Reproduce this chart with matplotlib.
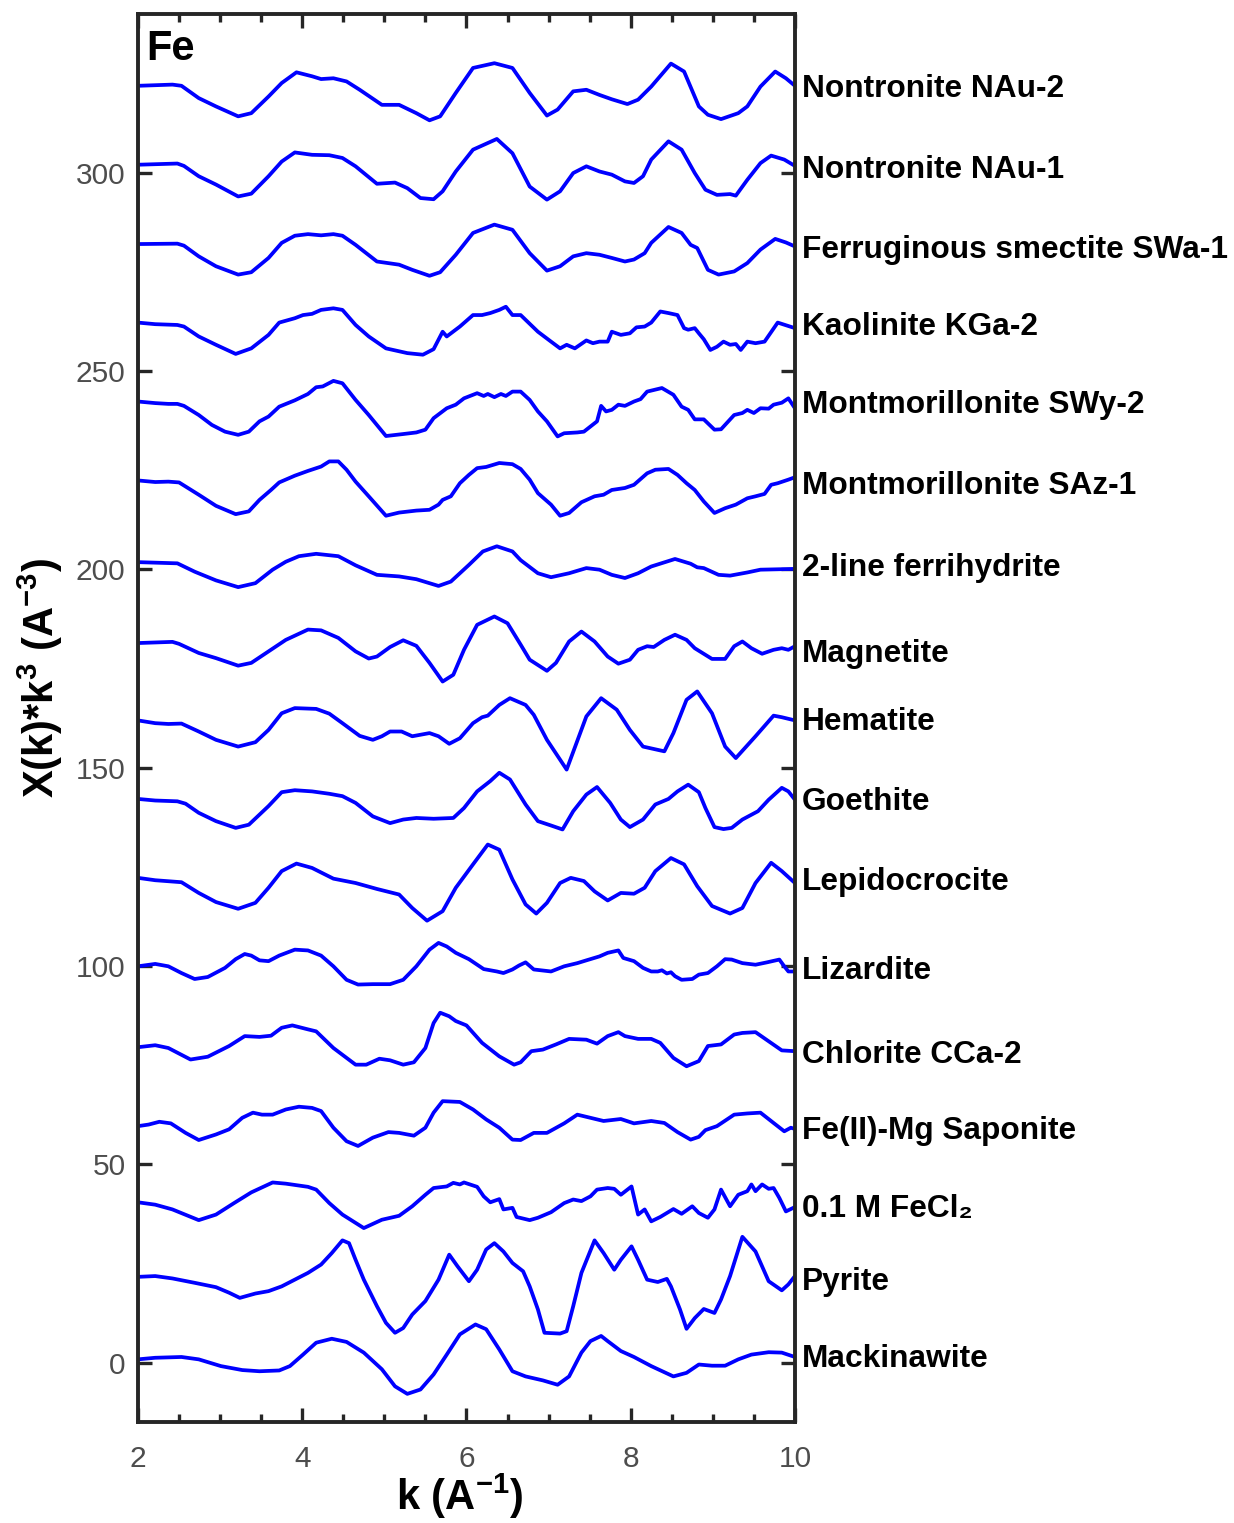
"""
Stacked Fe K-edge EXAFS spectra (k^3-weighted) of Fe reference minerals.
"""

import matplotlib
matplotlib.use('Agg')
import matplotlib.pyplot as plt
from matplotlib import transforms
from matplotlib.ticker import MultipleLocator


# ============================================================
# DATA (offset already applied)
# ============================================================
nau2_k = [2.0, 2.42, 2.53, 2.74, 2.95, 3.22, 3.38, 3.59, 3.75, 3.93, 4.12, 4.23, 4.38, 4.54, 4.70,
          4.97, 5.18, 5.39, 5.55, 5.68, 5.87, 6.08, 6.34, 6.56, 6.77, 6.98, 7.11, 7.30, 7.46, 7.62,
          7.77, 7.96, 8.09, 8.25, 8.49, 8.65, 8.83, 8.94, 9.10, 9.31, 9.42, 9.58, 9.76, 9.89, 10.0]
nau2_chi = [321.9, 322.2, 321.9, 318.8, 316.7, 314.2, 315.0, 319.2, 322.6, 325.3, 324.3, 323.6, 323.8, 323.0, 320.9,
            317.1, 317.1, 315.0, 313.2, 314.2, 320.1, 326.4, 327.6, 326.4, 320.1, 314.4, 315.9, 320.5, 320.9, 319.6,
            318.5, 317.3, 318.4, 321.7, 327.5, 325.5, 316.7, 314.6, 313.5, 315.0, 316.7, 321.7, 325.5, 323.8, 321.9]

nau1_k = [2.0, 2.48, 2.56, 2.74, 2.95, 3.22, 3.38, 3.59, 3.75, 3.91, 4.12, 4.33, 4.49, 4.65, 4.91, 5.13,
          5.28, 5.44, 5.60, 5.71, 5.87, 6.08, 6.37, 6.56, 6.77, 6.98, 7.14, 7.30, 7.46, 7.62, 7.77, 7.93,
          8.04, 8.15, 8.25, 8.46, 8.62, 8.78, 8.91, 9.05, 9.21, 9.28, 9.42, 9.58, 9.71, 9.87, 10.0]
nau1_chi = [302.0, 302.3, 301.7, 299.1, 297.0, 294.0, 294.7, 299.1, 302.8, 305.1, 304.5, 304.4, 303.7, 301.6, 297.2, 297.5,
            296.1, 293.6, 293.3, 295.3, 300.3, 305.8, 308.5, 304.9, 296.5, 293.2, 295.3, 299.9, 301.6, 300.3, 299.5, 297.8,
            297.4, 299.1, 303.3, 307.9, 305.8, 299.9, 295.7, 294.4, 294.6, 294.2, 298.2, 302.4, 304.3, 303.3, 301.7]

swa1_k = [2.0, 2.48, 2.56, 2.74, 2.95, 3.22, 3.38, 3.59, 3.75, 3.91, 4.07, 4.23, 4.38, 4.49, 4.65, 4.91,
          5.18, 5.34, 5.55, 5.68, 5.87, 6.08, 6.34, 6.56, 6.77, 6.98, 7.14, 7.30, 7.46, 7.62, 7.77, 7.93,
          8.04, 8.17, 8.25, 8.46, 8.62, 8.73, 8.81, 8.94, 9.07, 9.26, 9.42, 9.58, 9.76, 9.89, 10.0]
swa1_chi = [282.0, 282.1, 281.6, 278.9, 276.4, 274.3, 274.9, 278.5, 282.3, 284.1, 284.5, 284.2, 284.5, 284.1, 281.8, 277.6,
            276.8, 275.5, 274.0, 274.9, 279.3, 284.8, 286.9, 285.6, 279.7, 275.3, 276.4, 278.9, 279.7, 279.3, 278.5, 277.6,
            278.1, 279.7, 282.3, 286.3, 284.8, 281.8, 281.0, 275.5, 274.3, 275.1, 277.2, 280.6, 283.3, 282.4, 281.4]

kga2_k = [2.0, 2.21, 2.48, 2.56, 2.74, 2.95, 3.19, 3.38, 3.59, 3.72, 3.91, 4.01, 4.12, 4.23, 4.38, 4.49, 4.65,
          4.81, 5.02, 5.28, 5.47, 5.60, 5.71, 5.76, 5.92, 6.08, 6.19, 6.29, 6.40, 6.48, 6.56, 6.66, 6.87, 7.03,
          7.14, 7.22, 7.32, 7.46, 7.54, 7.62, 7.72, 7.77, 7.88, 7.99, 8.07, 8.17, 8.25, 8.36, 8.46, 8.57, 8.65,
          8.70, 8.78, 8.83, 8.89, 8.97, 9.05, 9.13, 9.21, 9.28, 9.34, 9.42, 9.52, 9.63, 9.79, 10.0]
kga2_chi = [262.2, 261.8, 261.6, 261.2, 258.7, 256.6, 254.3, 255.7, 259.1, 262.2, 263.3, 264.1, 264.4, 265.4, 265.8, 265.4, 261.6,
            258.7, 255.7, 254.5, 254.1, 255.5, 259.9, 258.7, 261.2, 264.1, 264.1, 264.6, 265.4, 266.2, 264.1, 264.1, 259.9, 257.4,
            255.7, 256.6, 255.7, 257.7, 257.0, 257.4, 257.4, 259.9, 259.1, 259.5, 261.0, 261.2, 262.2, 265.0, 264.6, 264.1, 260.8,
            260.4, 260.8, 259.5, 258.0, 255.3, 256.1, 257.4, 256.6, 256.8, 255.3, 257.4, 257.0, 257.4, 262.2, 260.8]

swy2_k = [2.0, 2.21, 2.37, 2.48, 2.56, 2.74, 2.90, 3.06, 3.22, 3.35, 3.48, 3.59, 3.72, 3.91, 4.01, 4.07, 4.17,
          4.25, 4.38, 4.49, 4.65, 4.81, 5.02, 5.23, 5.39, 5.50, 5.60, 5.76, 5.87, 5.97, 6.13, 6.21, 6.26, 6.34,
          6.42, 6.48, 6.56, 6.66, 6.77, 6.87, 6.98, 7.11, 7.19, 7.35, 7.43, 7.51, 7.59, 7.64, 7.70, 7.77, 7.85,
          7.93, 8.04, 8.12, 8.20, 8.38, 8.52, 8.62, 8.70, 8.78, 8.89, 9.02, 9.10, 9.26, 9.36, 9.42, 9.50, 9.58,
          9.68, 9.74, 9.84, 9.92, 10.0]
swy2_chi = [242.3, 241.9, 241.7, 241.7, 241.2, 238.9, 236.4, 234.7, 233.9, 234.7, 237.3, 238.5, 241.0, 242.6, 243.6, 244.2, 245.9,
            246.1, 247.5, 246.9, 242.7, 238.9, 233.6, 234.1, 234.5, 235.2, 238.1, 240.6, 241.5, 243.1, 244.4, 243.7, 244.2, 243.4,
            244.2, 243.7, 244.8, 244.8, 242.7, 239.8, 237.3, 233.5, 234.3, 234.5, 234.7, 236.0, 237.3, 241.2, 239.8, 240.2, 241.5,
            241.2, 242.3, 242.9, 244.8, 245.7, 244.0, 241.0, 240.2, 237.8, 237.8, 235.2, 235.3, 238.9, 239.4, 240.2, 239.4, 240.6,
            240.5, 241.5, 242.0, 243.1, 240.6]

saz1_k = [2.0, 2.21, 2.37, 2.50, 2.74, 2.95, 3.19, 3.35, 3.48, 3.62, 3.72, 3.91, 4.07, 4.23, 4.33, 4.44,
          4.54, 4.65, 4.81, 5.02, 5.18, 5.39, 5.55, 5.66, 5.71, 5.81, 5.92, 6.03, 6.13, 6.24, 6.40, 6.56,
          6.66, 6.77, 6.87, 7.03, 7.14, 7.25, 7.40, 7.56, 7.67, 7.77, 7.93, 8.04, 8.20, 8.30, 8.46, 8.57,
          8.68, 8.78, 8.89, 9.02, 9.15, 9.28, 9.42, 9.52, 9.63, 9.71, 9.79, 9.92, 10.0]
saz1_chi = [222.4, 222.0, 222.1, 221.9, 218.8, 216.0, 213.9, 214.6, 217.5, 220.0, 221.9, 223.6, 224.8, 225.9, 227.2, 227.2,
            225.1, 222.1, 218.4, 213.5, 214.3, 214.8, 215.0, 216.3, 217.5, 218.4, 221.7, 223.8, 225.5, 225.8, 226.8, 226.5,
            225.3, 222.6, 219.2, 216.3, 213.5, 214.2, 216.9, 218.4, 218.8, 220.0, 220.5, 221.3, 224.2, 225.1, 225.3, 223.8,
            221.7, 220.0, 217.1, 214.2, 215.4, 216.3, 217.9, 218.4, 219.0, 221.3, 221.7, 222.6, 223.2]

fhy_k = [2.0, 2.48, 2.69, 2.95, 3.22, 3.43, 3.64, 3.80, 3.96, 4.17, 4.44, 4.65, 4.91, 5.18, 5.39, 5.66, 5.81,
         6.03, 6.20, 6.37, 6.56, 6.66, 6.87, 7.03, 7.25, 7.46, 7.62, 7.77, 7.93, 8.09, 8.25, 8.54, 8.73, 8.81,
         8.89, 9.07, 9.21, 9.42, 9.58, 9.79, 10.0]
fhy_chi = [201.8, 201.5, 199.4, 197.2, 195.5, 196.5, 199.9, 201.9, 203.3, 203.9, 203.3, 201.0, 198.6, 198.2, 197.5, 195.8, 196.9,
           201.1, 204.5, 205.8, 204.5, 202.3, 199.0, 198.0, 199.0, 200.3, 199.9, 198.6, 197.8, 199.0, 200.7, 202.6, 201.4, 200.5,
           200.3, 198.6, 198.4, 199.2, 199.9, 200.0, 200.1]

mag_k = [2.0, 2.42, 2.50, 2.74, 2.95, 3.22, 3.38, 3.59, 3.80, 4.07, 4.23, 4.44, 4.65, 4.81, 4.91, 5.07, 5.23,
         5.39, 5.55, 5.71, 5.84, 5.97, 6.13, 6.34, 6.50, 6.66, 6.77, 6.98, 7.09, 7.25, 7.40, 7.56, 7.72, 7.85,
         7.99, 8.09, 8.20, 8.28, 8.41, 8.54, 8.68, 8.78, 8.99, 9.15, 9.26, 9.36, 9.47, 9.60, 9.74, 9.84, 9.92, 10.0]
mag_chi = [181.4, 181.7, 181.2, 178.9, 177.6, 175.7, 176.4, 179.3, 182.2, 184.8, 184.6, 182.7, 179.3, 177.5, 178.0, 180.4, 182.1,
           180.7, 176.4, 171.7, 173.4, 179.7, 186.0, 188.1, 186.4, 181.0, 177.2, 174.4, 176.4, 181.8, 184.3, 181.8, 178.0, 176.2,
           177.2, 179.7, 180.6, 180.4, 182.2, 183.5, 182.2, 180.1, 177.4, 177.4, 180.6, 181.8, 180.1, 178.7, 179.7, 180.1, 179.7, 180.6]

hem_k = [2.0, 2.21, 2.37, 2.53, 2.74, 2.95, 3.22, 3.43, 3.59, 3.75, 3.91, 4.17, 4.33, 4.49, 4.70, 4.86, 4.97,
         5.07, 5.21, 5.34, 5.55, 5.66, 5.79, 5.92, 6.08, 6.19, 6.26, 6.40, 6.53, 6.72, 6.82, 6.98, 7.22, 7.46,
         7.64, 7.83, 7.99, 8.15, 8.41, 8.52, 8.68, 8.81, 8.99, 9.15, 9.28, 9.52, 9.74, 9.84, 10.0]
hem_chi = [161.9, 161.2, 161.0, 161.1, 159.1, 157.0, 155.3, 156.4, 159.5, 163.7, 165.0, 164.8, 163.6, 161.2, 158.0, 157.0, 157.9,
           159.1, 159.1, 157.9, 158.7, 157.9, 156.0, 157.4, 161.2, 162.7, 163.1, 165.8, 167.5, 165.8, 163.3, 157.0, 149.5, 162.9,
           167.5, 164.6, 159.5, 155.3, 154.1, 158.7, 167.1, 169.2, 163.7, 155.3, 152.4, 157.9, 163.1, 162.7, 161.9]

goe_k = [2.0, 2.21, 2.48, 2.58, 2.74, 2.95, 3.19, 3.35, 3.59, 3.75, 3.91, 4.12, 4.33, 4.49, 4.65, 4.86, 5.07,
         5.23, 5.39, 5.60, 5.84, 5.97, 6.13, 6.29, 6.40, 6.53, 6.72, 6.87, 7.03, 7.17, 7.30, 7.46, 7.59, 7.75,
         7.88, 7.99, 8.15, 8.30, 8.46, 8.57, 8.70, 8.83, 8.91, 9.02, 9.13, 9.23, 9.36, 9.55, 9.68, 9.84, 9.92, 10.0]
goe_chi = [142.1, 141.7, 141.5, 140.9, 138.6, 136.5, 134.8, 135.6, 140.3, 143.8, 144.3, 144.0, 143.4, 142.8, 141.1, 137.7, 136.0,
           136.9, 137.3, 137.1, 137.3, 139.8, 144.0, 146.6, 148.7, 147.0, 140.7, 136.5, 135.4, 134.4, 139.0, 143.2, 145.1, 141.1,
           136.9, 135.0, 136.9, 140.7, 142.1, 144.0, 145.7, 143.8, 139.8, 135.0, 134.5, 134.8, 136.9, 139.0, 141.9, 144.9, 144.0, 141.9]

lep_k = [2.0, 2.21, 2.53, 2.74, 2.95, 3.22, 3.43, 3.59, 3.75, 3.93, 4.12, 4.38, 4.65, 4.91, 5.18, 5.34,
         5.52, 5.71, 5.87, 6.08, 6.26, 6.40, 6.56, 6.72, 6.85, 6.98, 7.14, 7.27, 7.43, 7.56, 7.72, 7.88,
         8.04, 8.17, 8.30, 8.49, 8.65, 8.81, 8.99, 9.21, 9.36, 9.52, 9.71, 9.84, 10.0]
lep_chi = [122.2, 121.6, 121.1, 118.4, 116.1, 114.4, 115.9, 119.7, 123.9, 125.8, 124.7, 122.0, 120.9, 119.4, 118.0, 114.6,
           111.4, 113.8, 119.7, 125.6, 130.6, 129.3, 121.8, 115.5, 113.2, 115.9, 120.9, 122.2, 121.4, 118.8, 116.5, 118.4,
           118.2, 119.7, 123.9, 127.2, 125.6, 120.1, 115.1, 113.2, 114.6, 120.9, 126.0, 123.9, 120.9]

liz_k = [2.0, 2.21, 2.37, 2.53, 2.69, 2.85, 3.06, 3.19, 3.30, 3.38, 3.48, 3.59, 3.72, 3.91, 4.07, 4.23, 4.38,
         4.54, 4.68, 4.86, 5.07, 5.23, 5.39, 5.55, 5.66, 5.76, 5.87, 6.03, 6.21, 6.37, 6.45, 6.56, 6.64, 6.72,
         6.82, 7.03, 7.19, 7.35, 7.46, 7.62, 7.72, 7.85, 7.91, 8.04, 8.15, 8.25, 8.33, 8.38, 8.44, 8.49, 8.54,
         8.62, 8.75, 8.83, 8.94, 9.05, 9.15, 9.23, 9.36, 9.52, 9.66, 9.81, 9.87, 9.92, 10.0]
liz_chi = [99.9, 100.5, 99.9, 98.2, 96.7, 97.2, 99.5, 101.7, 103.0, 102.6, 101.4, 101.2, 102.6, 104.1, 103.9, 102.6, 99.9,
           96.5, 95.3, 95.4, 95.4, 96.5, 99.9, 104.1, 105.8, 104.9, 103.3, 101.7, 99.2, 98.6, 98.2, 99.1, 100.1, 100.9,
           99.1, 98.6, 99.9, 100.7, 101.4, 102.4, 103.3, 103.9, 102.0, 101.2, 99.5, 98.6, 98.6, 98.9, 98.1, 98.4, 97.4,
           96.5, 96.7, 97.8, 98.2, 99.9, 101.7, 101.6, 100.7, 100.3, 100.9, 101.6, 99.9, 98.6, 98.6]

chl_k = [2.0, 2.21, 2.37, 2.64, 2.85, 3.11, 3.30, 3.48, 3.62, 3.75, 3.88, 4.07, 4.17, 4.38, 4.65, 4.78, 4.94,
         5.07, 5.23, 5.36, 5.50, 5.60, 5.68, 5.79, 5.87, 6.00, 6.19, 6.40, 6.58, 6.66, 6.79, 6.93, 7.09, 7.25,
         7.46, 7.59, 7.72, 7.85, 7.93, 8.09, 8.25, 8.36, 8.52, 8.68, 8.83, 8.94, 9.10, 9.26, 9.36, 9.52, 9.68, 9.84, 10.0]
chl_chi = [79.5, 80.0, 79.3, 76.4, 77.1, 79.8, 82.3, 82.1, 82.4, 84.4, 85.0, 84.0, 83.5, 79.3, 75.1, 75.1, 76.6,
           76.2, 75.1, 75.7, 79.3, 85.6, 88.2, 87.3, 86.1, 85.0, 80.6, 77.2, 75.1, 75.7, 78.5, 78.9, 80.2, 81.6,
           81.4, 80.4, 82.3, 83.3, 82.3, 81.6, 81.6, 80.6, 76.8, 74.7, 76.0, 79.8, 80.2, 82.7, 83.1, 83.3, 81.0, 78.7, 78.5]

sap_k = [2.0, 2.13, 2.26, 2.40, 2.58, 2.74, 2.95, 3.11, 3.27, 3.40, 3.51, 3.64, 3.80, 3.96, 4.12, 4.23, 4.38, 4.54,
         4.68, 4.86, 5.05, 5.18, 5.36, 5.50, 5.60, 5.71, 5.92, 6.08, 6.24, 6.40, 6.56, 6.66, 6.82, 6.98, 7.19, 7.35,
         7.51, 7.67, 7.88, 8.04, 8.25, 8.41, 8.57, 8.73, 8.83, 8.91, 9.05, 9.26, 9.42, 9.58, 9.74, 9.87, 9.95, 10.0]
sap_chi = [59.6, 60.0, 60.7, 60.3, 57.9, 56.1, 57.5, 58.8, 61.7, 63.0, 62.5, 62.5, 63.8, 64.5, 64.2, 63.4, 59.2, 55.8,
           54.6, 56.7, 58.1, 57.9, 57.2, 59.2, 63.0, 65.9, 65.7, 63.8, 61.3, 59.2, 56.2, 56.1, 57.9, 57.9, 60.3, 62.5,
           61.7, 60.9, 61.4, 60.3, 60.9, 60.4, 58.1, 56.2, 56.9, 58.6, 59.6, 62.5, 62.8, 63.0, 60.4, 58.3, 59.2, 58.9]

fecl2_k = [2.0, 2.21, 2.42, 2.74, 2.95, 3.17, 3.38, 3.64, 3.80, 4.07, 4.17, 4.33, 4.49, 4.75, 4.97, 5.18,
           5.34, 5.50, 5.60, 5.76, 5.84, 5.92, 5.97, 6.13, 6.21, 6.29, 6.40, 6.45, 6.56, 6.61, 6.77, 6.87,
           7.03, 7.19, 7.30, 7.40, 7.51, 7.59, 7.72, 7.80, 7.88, 8.01, 8.09, 8.17, 8.25, 8.36, 8.52, 8.62,
           8.75, 8.83, 8.94, 9.02, 9.10, 9.21, 9.31, 9.42, 9.47, 9.52, 9.60, 9.68, 9.74, 9.81, 9.89, 10.0]
fecl2_chi = [40.4, 39.8, 38.6, 35.9, 37.3, 40.2, 42.9, 45.4, 45.1, 44.3, 43.6, 40.2, 37.3, 33.9, 36.0, 37.0,
             39.4, 42.3, 44.0, 44.4, 45.3, 44.9, 45.4, 44.3, 41.9, 40.4, 41.2, 38.6, 39.0, 36.7, 35.9, 36.5,
             37.9, 40.2, 41.1, 40.7, 41.9, 43.6, 44.0, 43.8, 42.3, 44.4, 37.3, 38.6, 35.6, 36.7, 38.7, 37.5,
             39.4, 37.7, 36.5, 38.6, 43.6, 39.4, 42.3, 43.2, 44.9, 43.2, 44.9, 43.8, 44.0, 41.5, 38.1, 39.2]

pyr_k = [2.0, 2.21, 2.42, 2.69, 2.95, 3.11, 3.24, 3.43, 3.59, 3.75, 3.91, 4.07, 4.23, 4.36, 4.49, 4.57,
         4.65, 4.75, 4.91, 5.02, 5.13, 5.23, 5.34, 5.50, 5.66, 5.79, 5.89, 6.03, 6.13, 6.24, 6.34, 6.45,
         6.56, 6.69, 6.77, 6.87, 6.95, 7.14, 7.22, 7.30, 7.40, 7.56, 7.67, 7.80, 7.88, 8.01, 8.09, 8.20,
         8.33, 8.44, 8.49, 8.60, 8.68, 8.78, 8.89, 9.02, 9.10, 9.21, 9.36, 9.52, 9.68, 9.84, 9.92, 10.0]
pyr_chi = [21.6, 21.8, 21.2, 20.1, 19.0, 17.6, 16.3, 17.4, 18.0, 19.2, 20.9, 22.6, 24.7, 27.6, 30.8, 30.1,
           25.9, 20.9, 14.2, 10.0, 7.5, 8.7, 12.1, 15.5, 20.9, 27.2, 24.3, 20.5, 23.4, 28.5, 30.1, 28.0,
           25.1, 23.0, 19.2, 13.4, 7.5, 7.3, 7.9, 14.2, 22.6, 30.8, 27.6, 23.4, 25.9, 29.3, 25.9, 20.9,
           20.3, 21.1, 19.2, 13.4, 8.5, 11.2, 13.5, 12.5, 15.9, 21.8, 31.7, 28.0, 20.5, 18.2, 19.7, 21.8]

mack_k = [2.0, 2.21, 2.53, 2.74, 3.01, 3.27, 3.48, 3.72, 3.85, 4.01, 4.17, 4.36, 4.54, 4.75, 4.97, 5.13,
          5.28, 5.44, 5.60, 5.76, 5.92, 6.11, 6.24, 6.40, 6.56, 6.72, 6.93, 7.11, 7.25, 7.40, 7.51, 7.64,
          7.72, 7.88, 8.04, 8.25, 8.52, 8.68, 8.83, 8.99, 9.15, 9.31, 9.47, 9.68, 9.84, 10.0]
mack_chi = [0.8, 1.2, 1.4, 0.8, -0.9, -1.9, -2.2, -2.0, -0.9, 2.0, 5.0, 6.0, 5.2, 2.5, -1.7, -6.0,
            -7.9, -6.8, -3.0, 2.0, 7.1, 9.6, 8.4, 3.3, -2.2, -3.5, -4.5, -5.6, -3.5, 2.5, 5.4, 6.7,
            5.4, 2.9, 1.4, -0.9, -3.5, -2.6, -0.5, -0.8, -0.8, 0.8, 2.0, 2.6, 2.5, 1.4]

sample_names = ['Nontronite NAu-2', 'Nontronite NAu-1', 'Ferruginous smectite SWa-1',
                'Kaolinite KGa-2', 'Montmorillonite SWy-2', 'Montmorillonite SAz-1',
                '2-line ferrihydrite', 'Magnetite', 'Hematite', 'Goethite', 'Lepidocrocite',
                'Lizardite', 'Chlorite CCa-2', 'Fe(II)-Mg Saponite', '0.1 M FeCl\u2082',
                'Pyrite', 'Mackinawite']
label_y = [322.0, 301.7, 281.6, 262.2, 242.5, 222.1, 201.4, 179.7, 162.6, 142.4, 122.2,
           99.6, 78.6, 59.5, 39.8, 21.4, 2.0]

spectra_k = [nau2_k, nau1_k, swa1_k, kga2_k, swy2_k, saz1_k, fhy_k, mag_k, hem_k, goe_k,
             lep_k, liz_k, chl_k, sap_k, fecl2_k, pyr_k, mack_k]
spectra_chi = [nau2_chi, nau1_chi, swa1_chi, kga2_chi, swy2_chi, saz1_chi, fhy_chi, mag_chi,
               hem_chi, goe_chi, lep_chi, liz_chi, chl_chi, sap_chi, fecl2_chi, pyr_chi, mack_chi]

# ============================================================
# STYLE
# ============================================================
LINE_COLOR = '#0000ff'
AXIS_COLOR = '#262626'
TICK_LABEL_COLOR = '#4d4d4d'

plt.rcParams['font.family'] = ['Liberation Sans', 'DejaVu Sans']
plt.rcParams['mathtext.fontset'] = 'custom'
plt.rcParams['mathtext.rm'] = 'Liberation Sans'
plt.rcParams['mathtext.bf'] = 'Liberation Sans:bold'


def main():
    fig = plt.figure(figsize=(12.34, 15.23), dpi=100)
    ax = fig.add_axes([0.1118, 0.0663, 0.5324, 0.9245])

    for k, chi in zip(spectra_k, spectra_chi):
        ax.plot(k, chi, color=LINE_COLOR, linewidth=2.7,
                solid_joinstyle='round', solid_capstyle='round')

    # sample names to the right of the frame (nudged a few px down)
    label_tr = transforms.offset_copy(ax.transData, fig=fig, x=0, y=-4, units='dots')
    for name, y in zip(sample_names, label_y):
        ax.text(10.08, y, name, fontsize=22.8, fontweight='bold', color='black',
                ha='left', va='center', clip_on=False, transform=label_tr)

    ax.text(2.1, 328.5, 'Fe', fontsize=30, fontweight='bold', va='baseline')

    ax.set_xlim(2, 10)
    ax.set_ylim(-15, 340)
    ax.xaxis.set_major_locator(MultipleLocator(2))
    ax.xaxis.set_minor_locator(MultipleLocator(0.5))
    ax.yaxis.set_major_locator(MultipleLocator(50))

    ax.tick_params(which='both', direction='in', top=True, right=True,
                   width=2.4, color=AXIS_COLOR)
    ax.tick_params(which='major', length=10, labelsize=21.5,
                   labelcolor=TICK_LABEL_COLOR)
    ax.tick_params(which='minor', length=6)
    ax.tick_params(axis='y', which='major', pad=9)
    ax.tick_params(axis='x', which='major', pad=16.5)
    for spine in ax.spines.values():
        spine.set_linewidth(2.8)
        spine.set_color(AXIS_COLOR)

    ax.set_xlabel(r'k (A$^{\mathbf{-1}}$)', fontsize=30, fontweight='bold')
    ax.xaxis.set_label_coords(0.49, -0.035)
    ax.set_ylabel(r'X(k)*k$^{\mathbf{3}}$ (A$^{\mathbf{-3}}$)', fontsize=30,
                  fontweight='bold', va='center')
    ax.yaxis.set_label_coords(-0.149, 0.528)

    fig.savefig('out.png', dpi=100)
    plt.close(fig)


if __name__ == '__main__':
    main()
